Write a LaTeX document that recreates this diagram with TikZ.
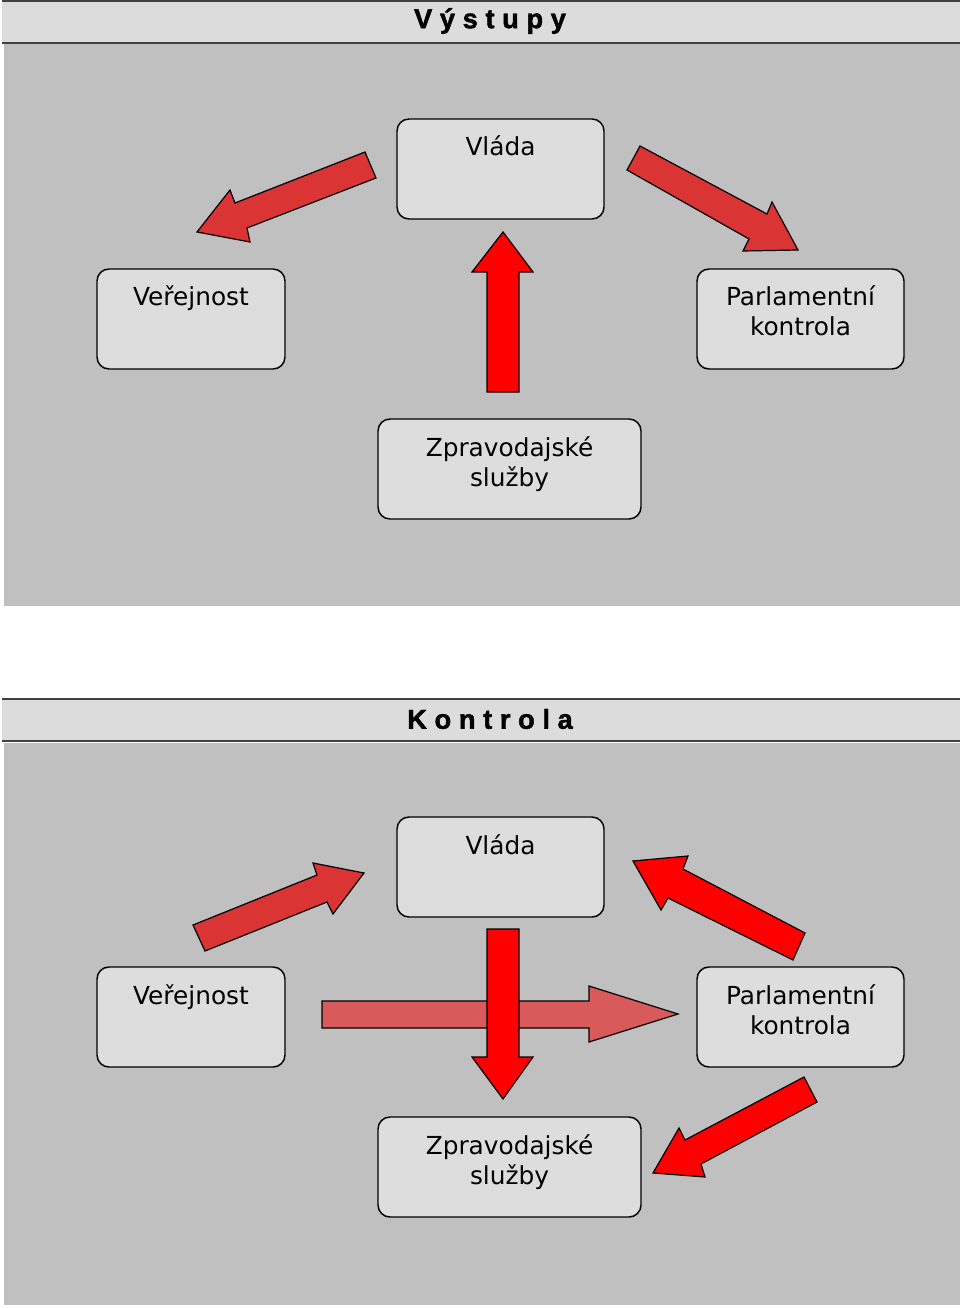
\documentclass[tikz,border=0pt]{standalone}
\usepackage{fontspec}
\setmainfont{DejaVu Sans}
\newfontfamily\titlefont[BoldFeatures={FakeBold=1.5}]{Liberation Sans}
\definecolor{panelgray}{HTML}{C0C0C0}
\definecolor{barfill}{HTML}{DCDCDC}
\definecolor{barline}{HTML}{404040}
\definecolor{boxfill}{HTML}{DDDDDD}
\definecolor{solidred}{HTML}{FF0000}
\definecolor{dotred}{HTML}{DA3434}
\definecolor{pinkred}{HTML}{D85A5A}
\tikzset{
  panel/.style={fill=panelgray, draw=none},
  titlebar/.style={fill=barfill, draw=none},
  barrule/.style={draw=barline, line width=1.5pt},
  titletext/.style={font=\titlefont\bfseries\fontsize{20.5}{20.5}\selectfont, inner sep=0pt},
  stepbox/.style={draw=black, fill=boxfill, rounded corners=9pt, line width=1.1pt, inner sep=0pt},
  boxtext/.style={anchor=base, inner sep=0pt, font=\fontsize{18.6}{22.5}\selectfont},
  blockarrow/.style={draw=black, line width=0.9pt, line join=miter},
  redarrow/.style={blockarrow, fill=solidred},
  dotarrow/.style={blockarrow, fill=dotred},
  pinkarrow/.style={blockarrow, fill=pinkred},
}
\newcommand{\twolines}[2]{\begin{tabular}[t]{@{}c@{}}#1\\#2\end{tabular}}
\begin{document}
\begin{tikzpicture}[x=0.75pt, y=-0.75pt]
\useasboundingbox (0,0) rectangle (960,1308);
\fill[white] (0,0) rectangle (960,1308);

% ===== top panel =====
\fill[titlebar] (2,1) rectangle (960,43);
\draw[barrule] (2,1) -- (960,1);
\draw[barrule] (2,43) -- (960,43);
\fill[panel] (4,44.5) rectangle (960,606);
\node[titletext] (t1) at (490,21) {V ý s t u p y};

\node[stepbox, minimum width=155.25pt, minimum height=75pt] (vA) at (500.5,169) {};
\node[stepbox, minimum width=141pt, minimum height=75pt] (pA) at (191,319) {};
\node[stepbox, minimum width=155.25pt, minimum height=75pt] (kA) at (800.5,319) {};
\node[stepbox, minimum width=197.25pt, minimum height=75pt] (zA) at (509.5,469) {};
\node[boxtext] at (500.5,156) {Vláda};
\node[boxtext] at (191,306) {Veřejnost};
\node[boxtext] at (800.5,306) {\twolines{Parlamentní}{kontrola}};
\node[boxtext] at (509.5,456) {\twolines{Zpravodajské}{služby}};

% arrows top
\draw[dotarrow] (365,152) -- (376,178) -- (247,228) -- (250,242) -- (197,232) -- (230,190) -- (235,203) -- cycle;
\draw[dotarrow] (640,146) -- (767,214) -- (772,202) -- (798,250) -- (743,251) -- (749,239) -- (627,170) -- cycle;
\draw[redarrow] (503,232) -- (533,272) -- (519,272) -- (519,392) -- (487,392) -- (487,272) -- (472,272) -- cycle;

% ===== bottom panel =====
\fill[titlebar] (2,699) rectangle (960,741);
\draw[barrule] (2,699) -- (960,699);
\draw[barrule] (2,741) -- (960,741);
\fill[panel] (4,742.5) rectangle (960,1305);
\node[titletext] (t2) at (490,719) {K o n t r o l a};

\node[stepbox, minimum width=155.25pt, minimum height=75pt] (vB) at (500.5,867) {};
\node[stepbox, minimum width=141pt, minimum height=75pt] (pB) at (191,1017) {};
\node[stepbox, minimum width=155.25pt, minimum height=75pt] (kB) at (800.5,1017) {};
\node[stepbox, minimum width=197.25pt, minimum height=75pt] (zB) at (509.5,1167) {};
\node[boxtext] at (500.5,854) {Vláda};
\node[boxtext] at (191,1004) {Veřejnost};
\node[boxtext] at (800.5,1004) {\twolines{Parlamentní}{kontrola}};
\node[boxtext] at (509.5,1154) {\twolines{Zpravodajské}{služby}};

% arrows bottom
\draw[dotarrow] (193,925) -- (317,875) -- (313,863) -- (364,873) -- (333,914) -- (327,902) -- (205,951) -- cycle;
\draw[redarrow] (633,861) -- (688,856) -- (683,869) -- (805,933) -- (793,960) -- (668,898) -- (661,910) -- cycle;
\draw[pinkarrow] (322,1001) -- (589,1001) -- (589,986) -- (678,1014) -- (589,1042) -- (589,1028) -- (322,1028) -- cycle;
\draw[redarrow] (487,929) -- (519,929) -- (519,1057) -- (533,1057) -- (503,1099) -- (472,1057) -- (487,1057) -- cycle;
\draw[redarrow] (804,1077) -- (817,1102) -- (701,1164) -- (705,1177) -- (653,1173) -- (679,1128) -- (685,1140) -- cycle;
\end{tikzpicture}
\end{document}
